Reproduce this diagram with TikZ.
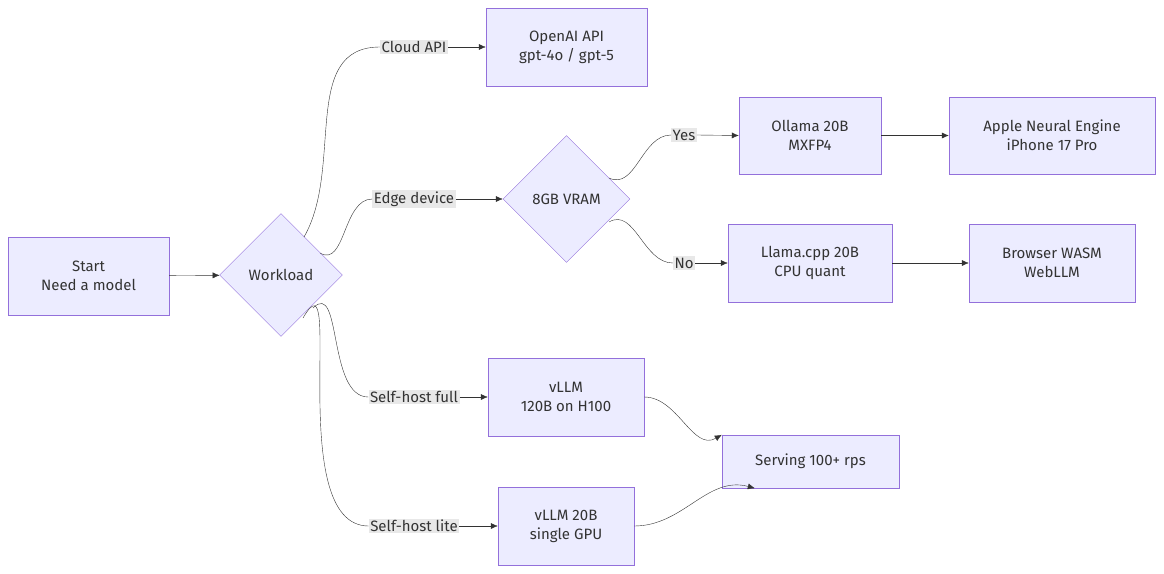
\documentclass[tikz,border=0pt]{standalone}
\usepackage{fontspec}
\setmainfont{Fira Sans}
\usetikzlibrary{shapes.geometric,arrows.meta}
\definecolor{boxfill}{HTML}{ECECFF}
\definecolor{boxline}{HTML}{9370DB}
\definecolor{edgeline}{HTML}{333333}
\definecolor{labfill}{HTML}{E8E8E8}
\begin{document}
\begin{tikzpicture}[
				x=1pt, y=-1pt,
				every node/.style={font=\fontsize{15}{19}\selectfont, text=edgeline},
				box/.style={draw=boxline, fill=boxfill, align=center, inner sep=0pt},
				choice/.style={draw=boxline, fill=boxfill, diamond, inner sep=0pt, minimum width=#1, minimum height=#1},
				lab/.style={fill=labfill, inner sep=1.5pt},
				link/.style={draw=edgeline, -{Latex[length=7pt,width=6pt]}},
			]
			\path[use as bounding box] (0,0) rectangle (1164,573);
			% nodes
			\node[box, minimum width=161, minimum height=78] (start) at (88.5,276) {Start\\Need a model};
			\node[choice=123] (load) at (281,275) {Workload};
			\node[box, minimum width=161, minimum height=78] (openai) at (566.5,47) {OpenAI API\\gpt-4o / gpt-5};
			\node[choice=127] (vram) at (566.5,199) {8GB VRAM};
			\node[box, minimum width=142, minimum height=77] (ollama) at (810,135.5) {Ollama 20B\\MXFP4};
			\node[box, minimum width=206, minimum height=77] (apple) at (1052,135.5) {Apple Neural Engine\\iPhone 17 Pro};
			\node[box, minimum width=164, minimum height=78] (llama) at (810,263) {Llama.cpp 20B\\CPU quant};
			\node[box, minimum width=166, minimum height=78] (browser) at (1052,263) {Browser WASM\\WebLLM};
			\node[box, minimum width=156, minimum height=78] (vllm) at (566,397) {vLLM\\120B on H100};
			\node[box, minimum width=136, minimum height=78] (lite) at (566,526) {vLLM 20B\\single GPU};
			\node[box, minimum width=177, minimum height=53] (serve) at (810.5,461.5) {Serving 100+ rps};
			% edge labels
			\node[lab] (lcloud) at (414,47) {Cloud API};
			\node[lab] (ledge) at (414,199) {Edge device};
			\node[lab] (lfull) at (414,397) {Self-host full};
			\node[lab] (llite) at (414,526) {Self-host lite};
			\node[lab] (lyes) at (684,135) {Yes};
			\node[lab] (lno) at (684,263) {No};
			% connectors
			\draw[link] (start) -- (load);
			\draw[draw=edgeline] (load.north) ++(23,-37) coordinate (c1) to[out=-60,in=-60] (c1);
			\draw[draw=edgeline] (304,237) to[out=60,in=180] (lcloud.west);
			\draw[link] (lcloud.east) -- (openai.west);
			\draw[draw=edgeline] (320,253) to[out=-30,in=180] (ledge.west);
			\draw[link] (ledge.east) -- (vram.west);
			\draw[draw=edgeline] (313,308) to[out=45,in=180] (lfull.west);
			\draw[link] (lfull.east) -- (vllm.west);
			\draw[draw=edgeline] (303,318) to[out=60,in=180] (llite.west);
			\draw[link] (llite.east) -- (lite.west);
			\draw[draw=edgeline] (609,178) to[out=-25,in=180] (lyes.west);
			\draw[link] (lyes.east) -- (ollama.west);
			\draw[draw=edgeline] (609,222) to[out=30,in=180] (lno.west);
			\draw[link] (lno.east) -- (llama.west);
			\draw[link] (ollama) -- (apple);
			\draw[link] (llama) -- (browser);
			\draw[link] (vllm.east) to[out=0,in=-150] (serve.north west);
			\draw[link] (lite.east) to[out=0,in=165] ([xshift=33pt]serve.south west);
		\end{tikzpicture}
\end{document}
